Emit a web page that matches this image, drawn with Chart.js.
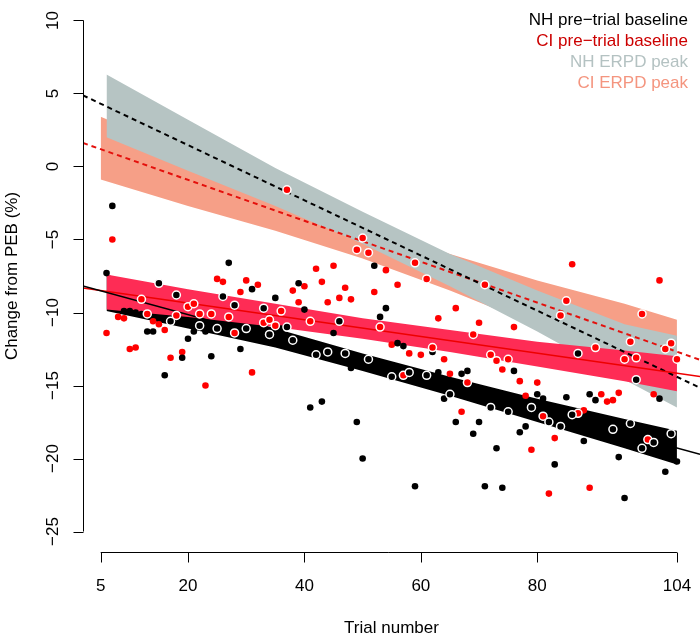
<!DOCTYPE html>
<html>
<head>
<meta charset="utf-8">
<script src="https://cdn.jsdelivr.net/npm/chart.js@4.4.1/dist/chart.umd.min.js"></script>
<style>
  html, body { margin: 0; padding: 0; background: #fff; }
  canvas { display: block; }
</style>
</head>
<body>
<canvas id="trialChart" width="700" height="638"></canvas>
<script>
// axis ticks
const xTicks = [5, 20, 40, 60, 80, 104];
const yTicks = [-25, -20, -15, -10, -5, 0, 5, 10];

// legend entries (top to bottom)
const seriesNames = ['NH pre\u2212trial baseline', 'CI pre\u2212trial baseline', 'NH ERPD peak', 'CI ERPD peak'];

// fitted lines: intercept and slope per trial, same order as seriesNames
const fitIntercept = [-7.97, -8.21, 5.24, 1.885];
const fitSlope = [-0.1088, -0.0572, -0.1889, -0.1401];

// confidence bands
const bandTrials = [6, 20, 35, 50, 65, 80, 95, 104];
const nhBaseUpper = [-7.4, -9.2, -11.1, -12.8, -14.4, -15.9, -17.3, -18.1];
const nhBaseLower = [-9.9, -11.1, -12.4, -14.0, -15.7, -17.5, -19.3, -20.4];
const ciBaseUpper = [-7.4, -8.4, -9.4, -10.4, -11.2, -12.0, -12.6, -13.0];
const ciBaseLower = [-9.8, -10.3, -11.0, -11.8, -12.7, -13.7, -14.7, -15.4];
const nhPeakUpper = [6.3, 3.2, -0.1, -3.1, -6.0, -8.5, -10.8, -11.6];
const nhPeakLower = [2.0, -0.3, -2.7, -5.3, -8.2, -11.3, -14.6, -16.5];
const ciPeakTrials = [5, 20, 35, 50, 65, 80, 95, 104];
const ciPeakUpper = [3.4, 0.9, -1.6, -4.0, -6.0, -7.8, -9.4, -10.5];
const ciPeakLower = [-0.9, -2.7, -4.4, -6.3, -8.5, -10.9, -13.4, -14.9];

// individual points [trial, change %]
const nhDots = [[6,-7.3],[7,-2.7],[9,-9.9],[10,-9.9],[11,-10.0],[12,-10.1],[13,-11.3],[14,-11.3],[16,-14.3],[19,-13.1],
  [20,-11.8],[21,-11.3],[23,-11.3],[24,-13.0],[27,-6.6],[29,-12.5],[31,-8.4],[35,-9.0],[36,-11.1],[39,-8.0],
  [40,-9.8],[41,-16.5],[43,-16.1],[45,-11.4],[48,-13.8],[49,-17.5],[50,-20.0],[52,-6.8],[53,-10.3],[54,-9.7],
  [56,-12.1],[57,-12.3],[59,-21.9],[62,-12.7],[63,-14.1],[64,-15.9],[66,-17.5],[67,-14.2],[68,-14.0],[69,-18.3],
  [70,-17.5],[71,-21.9],[73,-19.3],[74,-22.0],[76,-14.0],[77,-18.2],[78,-17.8],[80,-15.6],[81,-15.9],[83,-20.4],
  [85,-15.8],[88,-18.8],[89,-15.6],[90,-16.0],[94,-19.9],[95,-22.7],[101,-15.9],[102,-20.9],[104,-20.2]];
const ciDots = [[6,-11.4],[7,-5.0],[8,-10.3],[9,-10.4],[10,-12.5],[11,-12.4],[14,-10.6],[15,-10.8],[16,-11.2],[17,-13.1],
  [19,-12.7],[23,-15.0],[25,-7.7],[26,-7.9],[29,-8.6],[30,-7.8],[31,-14.1],[32,-8.1],[38,-8.5],[39,-9.3],
  [40,-8.2],[42,-7.0],[43,-7.9],[44,-9.3],[45,-6.8],[46,-9.0],[47,-8.3],[48,-9.1],[52,-8.6],[54,-7.1],
  [55,-12.2],[56,-8.1],[58,-12.8],[60,-12.9],[63,-10.4],[64,-13.2],[65,-14.2],[66,-9.7],[67,-16.8],[70,-10.7],
  [73,-13.3],[74,-13.9],[76,-11.0],[77,-14.7],[78,-15.7],[79,-19.4],[80,-14.8],[82,-22.4],[83,-18.6],[86,-6.7],
  [88,-16.7],[89,-22.0],[91,-15.6],[92,-16.1],[93,-16.0],[94,-15.5],[100,-15.6],[101,-7.8]];
const nhRings = [[15,-8.0],[17,-10.6],[18,-8.8],[22,-10.9],[25,-11.1],[26,-8.9],[28,-9.5],[30,-11.1],[33,-9.7],[34,-11.5],
  [37,-11.0],[38,-11.9],[42,-12.9],[44,-12.7],[46,-10.6],[47,-12.8],[51,-13.2],[55,-14.4],[58,-14.1],[61,-14.3],
  [65,-15.6],[72,-16.5],[75,-16.8],[79,-16.5],[82,-17.5],[84,-17.8],[86,-17.0],[87,-12.8],[93,-18.0],[96,-17.6],
  [97,-14.6],[98,-19.3],[100,-18.9],[103,-18.3]];
const ciRings = [[12,-9.1],[13,-10.1],[18,-10.2],[20,-9.6],[21,-9.4],[22,-10.1],[24,-10.1],[27,-10.3],[28,-11.4],[33,-10.7],
  [34,-10.5],[35,-10.9],[36,-9.9],[37,-1.6],[41,-10.6],[49,-5.7],[50,-4.9],[51,-5.9],[53,-11.0],[57,-14.3],
  [59,-6.6],[61,-7.7],[62,-12.4],[68,-14.8],[69,-11.5],[71,-8.1],[72,-12.9],[73,-13.3],[75,-13.2],[81,-17.1],
  [84,-10.2],[85,-9.2],[87,-16.9],[90,-12.4],[95,-13.2],[96,-12.0],[97,-13.1],[98,-10.1],[99,-18.7],[102,-12.5],
  [103,-12.1],[104,-13.2]];

const X_MIN = 1.96, X_MAX = 107.96;
const FONT = '17px "Liberation Sans", Arial, Helvetica, sans-serif';
const legendColors = ['#000000', '#cc0000', '#b4c2c2', '#f4957f'];

const pts = arr => arr.map(p => ({ x: p[0], y: p[1] }));
const band = (xs, ys) => xs.map((x, i) => ({ x: x, y: ys[i] }));
const fitLine = i => [X_MIN, X_MAX].map(x => ({ x: x, y: fitIntercept[i] + fitSlope[i] * x }));

function bandPair(xs, upper, lower, color, order, idx) {
  return [
    { type: 'line', data: band(xs, upper), fill: idx + 1, backgroundColor: color, borderWidth: 0,
      pointRadius: 0, tension: 0, order: order },
    { type: 'line', data: band(xs, lower), fill: false, borderWidth: 0, pointRadius: 0, tension: 0, order: order }
  ];
}

function lineSet(i, color, dash) {
  return { type: 'line', data: fitLine(i), borderColor: color, borderWidth: dash ? 2 : 1.5,
    borderDash: dash ? [5, 4] : [], pointRadius: 0, fill: false, order: 5 };
}

function dotSet(arr, color, ring, order) {
  return { type: 'scatter', data: pts(arr), backgroundColor: color,
    borderColor: ring ? '#ffffff' : color, borderWidth: ring ? 1.5 : 0,
    pointRadius: ring ? 4 : 3.3, order: order };
}

const datasets = [
  ...bandPair(ciPeakTrials, ciPeakUpper, ciPeakLower, '#f69f87', 40, 0),
  ...bandPair(bandTrials, nhPeakUpper, nhPeakLower, '#b6c4c3', 30, 2),
  ...bandPair(bandTrials, nhBaseUpper, nhBaseLower, '#000000', 20, 4),
  ...bandPair(bandTrials, ciBaseUpper, ciBaseLower, '#fe2c55', 10, 6),
  lineSet(0, '#000000', false),
  lineSet(1, '#ee0000', false),
  lineSet(2, '#000000', true),
  lineSet(3, '#e4100c', true),
  dotSet(nhDots, '#000000', false, 2),
  dotSet(ciDots, '#ff0000', false, 2),
  dotSet(nhRings, '#000000', true, 1),
  dotSet(ciRings, '#ff0000', true, 1)
];

const rAxes = {
  id: 'rAxes',
  afterDraw(chart) {
    const { ctx, chartArea } = chart;
    const x = chart.scales.x, y = chart.scales.y;
    ctx.save();
    ctx.strokeStyle = '#000';
    ctx.fillStyle = '#000';
    ctx.lineWidth = 1;
    ctx.font = FONT;

    // x axis
    const by = chartArea.bottom + 0.5;
    ctx.beginPath();
    ctx.moveTo(x.getPixelForValue(xTicks[0]), by);
    ctx.lineTo(x.getPixelForValue(xTicks[xTicks.length - 1]), by);
    xTicks.forEach(t => {
      const px = Math.round(x.getPixelForValue(t)) + 0.5;
      ctx.moveTo(px, by);
      ctx.lineTo(px, by + 10);
    });
    ctx.stroke();
    ctx.textAlign = 'center';
    ctx.textBaseline = 'middle';
    xTicks.forEach(t => ctx.fillText(String(t), x.getPixelForValue(t), by + 34));
    ctx.fillText('Trial number', (chartArea.left + chartArea.right) / 2, by + 76);

    // y axis
    const lx = chartArea.left + 0.5;
    ctx.beginPath();
    ctx.moveTo(lx, y.getPixelForValue(yTicks[0]));
    ctx.lineTo(lx, y.getPixelForValue(yTicks[yTicks.length - 1]));
    yTicks.forEach(t => {
      const py = Math.round(y.getPixelForValue(t)) + 0.5;
      ctx.moveTo(lx, py);
      ctx.lineTo(lx - 10, py);
    });
    ctx.stroke();
    yTicks.forEach(t => {
      ctx.save();
      ctx.translate(lx - 30, y.getPixelForValue(t));
      ctx.rotate(-Math.PI / 2);
      ctx.fillText(t < 0 ? '\u2212' + Math.abs(t) : String(t), 0, 0);
      ctx.restore();
    });
    ctx.save();
    ctx.translate(12, (chartArea.top + chartArea.bottom) / 2);
    ctx.rotate(-Math.PI / 2);
    ctx.fillText('Change from PEB (%)', 0, 0);
    ctx.restore();

    // legend text, right aligned
    ctx.textAlign = 'right';
    seriesNames.forEach((name, i) => {
      ctx.fillStyle = legendColors[i];
      ctx.fillText(name, 688, 20 + i * 21.1);
    });
    ctx.restore();
  }
};

new Chart(document.getElementById('trialChart'), {
  type: 'scatter',
  data: { datasets: datasets },
  options: {
    responsive: false,
    animation: false,
    devicePixelRatio: 1,
    layout: { autoPadding: false, padding: { left: 83, right: 0, top: 0, bottom: 86 } },
    plugins: {
      legend: { display: false },
      tooltip: { enabled: false },
      filler: { propagate: false }
    },
    scales: {
      x: { type: 'linear', min: X_MIN, max: X_MAX, display: false },
      y: { type: 'linear', min: -26.4, max: 11.4, display: false }
    }
  },
  plugins: [rAxes]
});
</script>
</body>
</html>
